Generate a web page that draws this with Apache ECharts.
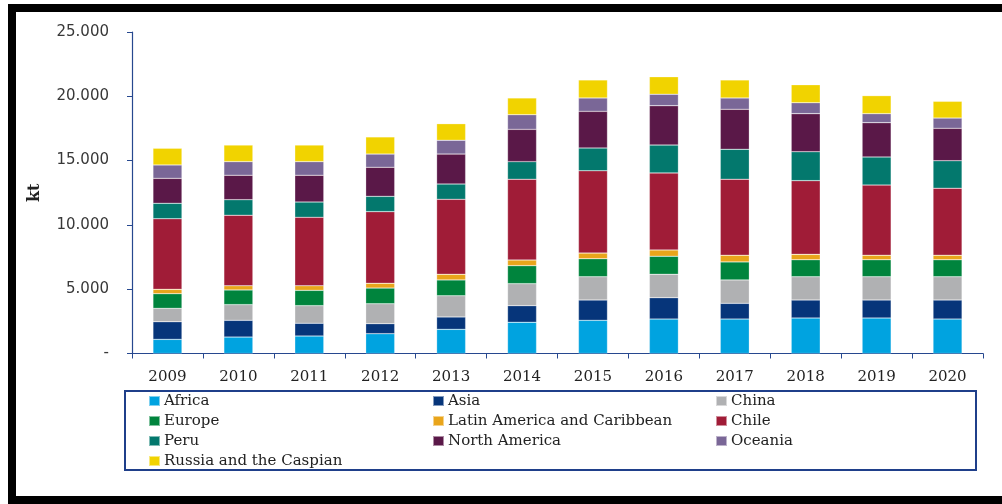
<!DOCTYPE html>
<html>
<head>
<meta charset="utf-8">
<style>
  html, body { margin: 0; padding: 0; background: #fff; }
  #chart { width: 1002px; height: 504px; }
</style>
<script src="https://cdn.jsdelivr.net/npm/echarts@6/dist/echarts.min.js"></script>
</head>
<body>
<div id="chart"></div>
<script>
// Copper production by region, kt (stacked bottom to top in this order)
const years = ['2009', '2010', '2011', '2012', '2013', '2014', '2015', '2016', '2017', '2018', '2019', '2020'];

const africa   = [1100, 1280, 1360, 1540, 1880, 2430, 2580, 2680, 2680, 2760, 2760, 2680];
const asia     = [1370, 1300,  990,  780,  960, 1290, 1580, 1660, 1220, 1400, 1400, 1480];
const china    = [1040, 1220, 1370, 1550, 1650, 1710, 1810, 1820, 1820, 1810, 1810, 1810];
const europe   = [1140, 1140, 1190, 1220, 1230, 1400, 1400, 1400, 1400, 1320, 1320, 1320];
const latam    = [ 340,  330,  360,  370,  440,  440,  440,  490,  520,  420,  350,  350];
const chile    = [5490, 5480, 5320, 5570, 5830, 6280, 6400, 5990, 5910, 5730, 5460, 5210];
const peru     = [1200, 1210, 1190, 1190, 1190, 1370, 1770, 2170, 2330, 2250, 2180, 2140];
const namerica = [1940, 1900, 2080, 2260, 2330, 2510, 2850, 3060, 3110, 2960, 2670, 2520];
const oceania  = [1040, 1060, 1060, 1030, 1070, 1140, 1040,  890,  880,  850,  700,  800];
const russia   = [1300, 1290, 1290, 1330, 1290, 1300, 1400, 1360, 1400, 1400, 1400, 1300];

const yTickLabels = ['-', '5.000', '10.000', '15.000', '20.000', '25.000'];

const seriesDefs = [
  { name: 'Africa', data: africa, color: '#00a3e0' },
  { name: 'Asia', data: asia, color: '#06357a' },
  { name: 'China', data: china, color: '#b0b1b3' },
  { name: 'Europe', data: europe, color: '#00843d' },
  { name: 'Latin America and Caribbean', data: latam, color: '#e9a51b' },
  { name: 'Chile', data: chile, color: '#a01c37' },
  { name: 'Peru', data: peru, color: '#03786d' },
  { name: 'North America', data: namerica, color: '#5a1848' },
  { name: 'Oceania', data: oceania, color: '#7a6797' },
  { name: 'Russia and the Caspian', data: russia, color: '#f1d300' }
];

const axisBlue = '#27488f';
const serif = '"DejaVu Serif", serif';

const legendBase = {
  orient: 'vertical',
  selectedMode: false,
  padding: 0,
  itemWidth: 11,
  itemHeight: 10,
  itemGap: 0,
  icon: 'rect',
  top: 391,
  textStyle: { fontFamily: serif, fontSize: 15, color: '#222', lineHeight: 20, padding: [0, 0, 0, -1] }
};

const chart = echarts.init(document.getElementById('chart'), null, { renderer: 'canvas' });

chart.setOption({
  backgroundColor: '#fff',
  animation: false,
  color: seriesDefs.map(s => s.color),
  grid: { left: 132, right: 19, top: 32, bottom: 150.5, containLabel: false },
  xAxis: {
    type: 'category',
    data: years,
    axisLine: { lineStyle: { color: axisBlue, width: 1.2 } },
    axisTick: { show: true, interval: 0, alignWithLabel: false, length: 5, lineStyle: { color: axisBlue } },
    axisLabel: { interval: 0, margin: 16, fontFamily: serif, fontSize: 15, color: '#222' }
  },
  yAxis: {
    type: 'value',
    min: 0,
    max: 25000,
    interval: 5000,
    name: 'kt',
    nameLocation: 'middle',
    nameRotate: 90,
    nameGap: 89,
    nameTextStyle: { fontFamily: serif, fontSize: 16, fontWeight: 'bold', color: '#222' },
    splitLine: { show: false },
    axisLine: { show: true, lineStyle: { color: axisBlue, width: 1.2 } },
    axisTick: { show: true, length: 5, lineStyle: { color: axisBlue } },
    axisLabel: {
      margin: 23,
      fontFamily: '"DejaVu Sans", sans-serif',
      fontSize: 15,
      color: '#383838',
      formatter: v => yTickLabels[Math.round(v / 5000)]
    }
  },
  legend: [
    Object.assign({}, legendBase, { left: 148, data: ['Africa', 'Europe', 'Peru', 'Russia and the Caspian'] }),
    Object.assign({}, legendBase, { left: 432, data: ['Asia', 'Latin America and Caribbean', 'North America'] }),
    Object.assign({}, legendBase, { left: 715, data: ['China', 'Chile', 'Oceania'] })
  ],
  series: seriesDefs.map(s => ({
    name: s.name,
    type: 'bar',
    stack: 'total',
    barWidth: 29,
    data: s.data,
    itemStyle: { color: s.color, borderColor: 'rgba(255,255,255,0.5)', borderWidth: 0.5 }
  })),
  graphic: [
    {
      type: 'rect',
      silent: true,
      shape: { x: 125, y: 391, width: 851, height: 79 },
      style: { fill: 'none', stroke: '#1f3f8a', lineWidth: 2 }
    },
    {
      type: 'rect',
      silent: true,
      shape: { x: 12, y: 8, width: 1000, height: 492 },
      style: { fill: 'none', stroke: '#000', lineWidth: 8 }
    }
  ]
});
</script>
</body>
</html>
